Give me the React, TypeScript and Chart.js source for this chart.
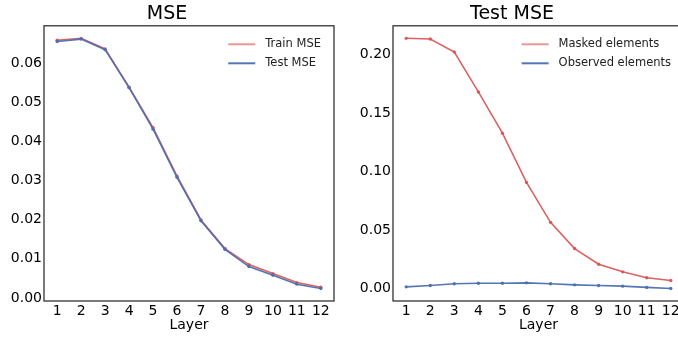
import React, { useEffect, useRef } from "react";
import { Chart, registerables } from "chart.js";

Chart.register(...registerables);

// ---- data ----
const layers = [1, 2, 3, 4, 5, 6, 7, 8, 9, 10, 11, 12];
const trainMSE = [0.0658, 0.0663, 0.0636, 0.0538, 0.0435, 0.0311, 0.0199, 0.0126, 0.0085, 0.0062, 0.0039, 0.0027];
const testMSE = [0.0655, 0.0661, 0.0634, 0.0537, 0.0431, 0.0308, 0.0197, 0.0124, 0.0080, 0.0058, 0.0035, 0.0024];
const maskedMSE = [0.2137, 0.2131, 0.2020, 0.1679, 0.1327, 0.0906, 0.0565, 0.0341, 0.0207, 0.0142, 0.0091, 0.0068];
const observedMSE = [0.0014, 0.0026, 0.0040, 0.0045, 0.0045, 0.0048, 0.0040, 0.0031, 0.0026, 0.0020, 0.0009, 0.0000];
const leftYTicks = [0, 0.01, 0.02, 0.03, 0.04, 0.05, 0.06];
const rightYTicks = [0, 0.05, 0.1, 0.15, 0.2];
const leftYRange = [-0.0008, 0.0695];
const rightYRange = [-0.0107, 0.2244];
const xRange = [0.45, 12.55];
const leftTitle = "MSE";
const rightTitle = "Test MSE";
const xTitle = "Layer";
const leftLabels = ["Train MSE", "Test MSE"];
const rightLabels = ["Masked elements", "Observed elements"];

const RED = "rgba(218, 80, 80, 0.9)";
const RED_LEGEND = "rgba(218, 80, 80, 0.6)";
const BLUE = "rgba(74, 111, 176, 0.95)";
const FONT = "'DejaVu Sans', sans-serif";

const framePlugin = {
  id: "frame",
  afterDraw(chart: any) {
    const { ctx, chartArea: a } = chart;
    ctx.save();
    ctx.strokeStyle = "#222";
    ctx.lineWidth = 1.2;
    ctx.strokeRect(a.left, a.top, a.right - a.left, a.bottom - a.top);
    ctx.restore();
  },
};

const legendPlugin = {
  id: "innerLegend",
  afterDraw(chart: any) {
    const { ctx, chartArea: a } = chart;
    const ds = chart.data.datasets;
    ctx.save();
    ctx.font = `11.5px ${FONT}`;
    const maxW = Math.max(...ds.map((d: any) => ctx.measureText(d.label).width));
    const textX = a.right - 13 - maxW;
    ds.forEach((d: any, i: number) => {
      const y = a.top + 18.5 + i * 19;
      ctx.strokeStyle = d.legendColor;
      ctx.lineWidth = 2;
      ctx.beginPath();
      ctx.moveTo(textX - 37, y);
      ctx.lineTo(textX - 10, y);
      ctx.stroke();
      ctx.fillStyle = "#222";
      ctx.textBaseline = "middle";
      ctx.textAlign = "left";
      ctx.fillText(d.label, textX, y);
    });
    ctx.restore();
  },
};

function makeDataset(label: string, values: number[], color: string, legendColor: string, order: number) {
  return {
    label,
    data: layers.map((x, i) => ({ x, y: values[i] })),
    borderColor: color,
    backgroundColor: color,
    pointBackgroundColor: color,
    pointBorderColor: color,
    borderWidth: 1.6,
    pointRadius: 1.7,
    pointBorderWidth: 0,
    legendColor,
    order,
  };
}

function makeConfig(title: string, datasets: any[], yTicks: number[], yRange: number[], yWidth: number, padRight: number): any {
  return {
    type: "line",
    data: { datasets },
    options: {
      animation: false,
      responsive: false,
      layout: { padding: { left: 0, right: padRight, top: 0, bottom: 0 } },
      plugins: {
        legend: { display: false },
        tooltip: { enabled: false },
        title: {
          display: true,
          text: title,
          color: "#000",
          font: { family: FONT, size: 19, weight: "normal" },
          padding: { top: 3, bottom: 0 },
        },
      },
      scales: {
        x: {
          type: "linear",
          min: xRange[0],
          max: xRange[1],
          grid: { display: false, drawTicks: false },
          border: { display: false },
          ticks: {
            color: "#000",
            font: { family: FONT, size: 14 },
            padding: 2,
            autoSkip: false,
            maxRotation: 0,
            callback: (v: any) => String(v),
          },
          afterBuildTicks: (s: any) => {
            s.ticks = layers.map((v) => ({ value: v }));
          },
          title: {
            display: true,
            text: xTitle,
            color: "#000",
            font: { family: FONT, size: 14 },
            padding: { top: 0, bottom: 3 },
          },
          afterFit: (s: any) => {
            s.height = 36;
          },
        },
        y: {
          type: "linear",
          min: yRange[0],
          max: yRange[1],
          grid: { display: false, drawTicks: false },
          border: { display: false },
          ticks: {
            color: "#000",
            font: { family: FONT, size: 14 },
            padding: 2,
            callback: (v: any) => Number(v).toFixed(2),
          },
          afterBuildTicks: (s: any) => {
            s.ticks = yTicks.map((v) => ({ value: v }));
          },
          afterFit: (s: any) => {
            s.width = yWidth;
          },
        },
      },
    },
    plugins: [framePlugin, legendPlugin],
  };
}

function ChartCanvas({ config, width, height, left }: any) {
  const ref = useRef<HTMLCanvasElement>(null);
  useEffect(() => {
    if (!ref.current) return;
    const chart = new Chart(ref.current, config);
    return () => chart.destroy();
  }, []);
  return (
    <canvas
      ref={ref}
      width={width}
      height={height}
      style={{ position: "absolute", left, top: 0, width, height, display: "block" }}
    />
  );
}

export default function App() {
  const leftConfig = makeConfig(
    leftTitle,
    [
      makeDataset(leftLabels[0], trainMSE, RED, RED_LEGEND, 2),
      makeDataset(leftLabels[1], testMSE, BLUE, BLUE, 1),
    ],
    leftYTicks,
    leftYRange,
    44,
    6
  );
  const rightConfig = makeConfig(
    rightTitle,
    [
      makeDataset(rightLabels[0], maskedMSE, RED, RED_LEGEND, 2),
      makeDataset(rightLabels[1], observedMSE, BLUE, BLUE, 1),
    ],
    rightYTicks,
    rightYRange,
    53,
    6
  );
  return (
    <div
      style={{
        position: "fixed",
        left: 0,
        top: 0,
        width: 678,
        height: 337,
        overflow: "hidden",
        background: "#fff",
      }}
    >
      <ChartCanvas config={leftConfig} width={340} height={337} left={0} />
      <ChartCanvas config={rightConfig} width={350} height={337} left={340} />
    </div>
  );
}
